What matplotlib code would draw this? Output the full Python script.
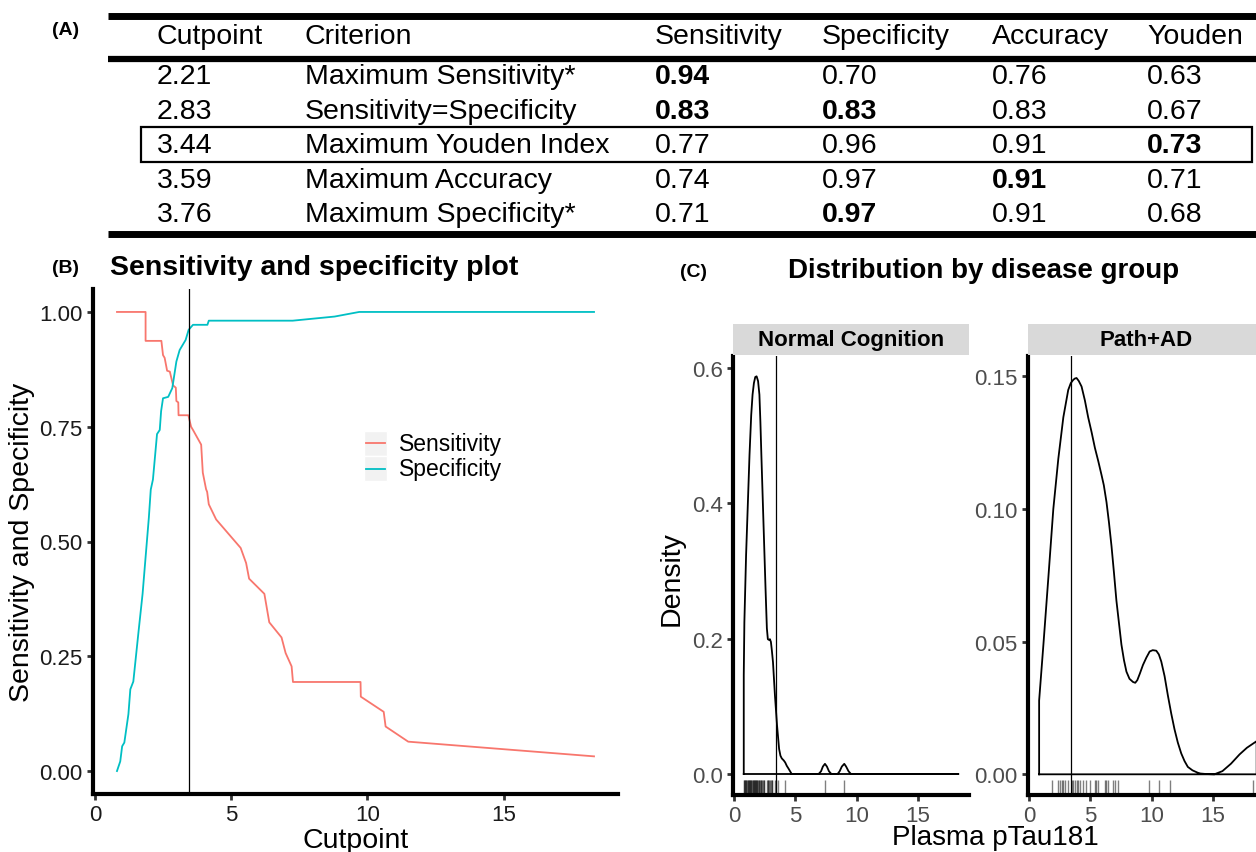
import numpy as np
import matplotlib
matplotlib.use("Agg")
import matplotlib.pyplot as plt
from matplotlib.patches import Rectangle
from matplotlib.lines import Line2D

plt.rcParams['font.family'] = ['Liberation Sans', 'DejaVu Sans']

## table (A)
col_names = ["Cutpoint", "Criterion", "Sensitivity", "Specificity", "Accuracy", "Youden"]
cutpoints = ["2.21", "2.83", "3.44", "3.59", "3.76"]
criteria = ["Maximum Sensitivity*", "Sensitivity=Specificity", "Maximum Youden Index",
            "Maximum Accuracy", "Maximum Specificity*"]
sensitivity = ["0.94", "0.83", "0.77", "0.74", "0.71"]
specificity = ["0.70", "0.83", "0.96", "0.97", "0.97"]
accuracy = ["0.76", "0.83", "0.91", "0.91", "0.91"]
youden = ["0.63", "0.67", "0.73", "0.71", "0.68"]
# (row, column) of the bold cells
bold_cells = [(0, 2), (1, 2), (1, 3), (4, 3), (3, 4), (2, 5)]
best_row = 2
youden_cut = 3.44

## sensitivity / specificity curves (B)
sens_cut = [0.81, 1.86, 1.86, 2.44, 2.50, 2.56, 2.65, 2.75, 2.87, 2.97,
            2.99, 3.06, 3.07, 3.43, 3.53, 3.60, 3.90, 3.96, 4.08, 4.12,
            4.18, 4.45, 5.35, 5.55, 5.66, 6.22, 6.40, 6.85, 7.00, 7.22,
            7.27, 9.75, 9.76, 10.60, 10.67, 11.50, 18.32]
sens_val = [1.00, 1.00, 0.937, 0.937, 0.906, 0.900, 0.872, 0.870, 0.840, 0.835,
            0.806, 0.803, 0.775, 0.775, 0.750, 0.743, 0.711, 0.650, 0.614, 0.608,
            0.581, 0.548, 0.486, 0.453, 0.419, 0.386, 0.324, 0.291, 0.257, 0.228,
            0.194, 0.194, 0.162, 0.129, 0.097, 0.064, 0.032]
spec_cut = [0.81, 0.93, 1.00, 1.08, 1.23, 1.30, 1.41, 1.60, 1.75, 1.83,
            1.98, 2.05, 2.13, 2.28, 2.38, 2.43, 2.50, 2.69, 2.84, 2.99,
            3.11, 3.33, 3.44, 3.60, 4.13, 4.18, 7.26, 8.80, 9.70, 18.32]
spec_val = [0.000, 0.021, 0.054, 0.062, 0.124, 0.178, 0.195, 0.303, 0.386, 0.444,
            0.552, 0.613, 0.635, 0.734, 0.743, 0.784, 0.812, 0.815, 0.834, 0.892,
            0.917, 0.939, 0.961, 0.972, 0.972, 0.981, 0.981, 0.990, 1.000, 1.000]

## densities (C)
groups = ["Normal Cognition", "Path+AD"]
nc_x = [0.78, 0.78, 0.83, 0.97, 1.11, 1.25, 1.39, 1.50, 1.61, 1.72,
        1.83, 1.95, 2.06, 2.14, 2.22, 2.39, 2.56, 2.67, 2.75, 2.83,
        2.92, 3.00, 3.08, 3.17, 3.33, 3.50, 3.67, 3.78, 3.89, 4.05,
        4.17, 4.30, 4.44, 4.70, 6.90, 7.10, 7.25, 7.42, 7.58, 7.75,
        7.95, 8.45, 8.62, 8.80, 9.00, 9.15, 9.35, 9.55, 18.33]
nc_d = [0.0, 0.146, 0.224, 0.323, 0.397, 0.471, 0.530, 0.560, 0.577, 0.586,
        0.587, 0.580, 0.560, 0.520, 0.471, 0.372, 0.274, 0.215, 0.199, 0.198,
        0.199, 0.195, 0.182, 0.165, 0.116, 0.072, 0.037, 0.027, 0.023, 0.020,
        0.017, 0.012, 0.008, 0.0, 0.0, 0.004, 0.011, 0.015, 0.011, 0.004,
        0.0, 0.0, 0.004, 0.011, 0.015, 0.011, 0.004, 0.0, 0.0]
pa_x = [0.81, 0.81, 1.16, 1.57, 1.97, 2.38, 2.79, 3.19, 3.40, 3.60,
        3.73, 3.87, 4.05, 4.28, 4.55, 4.82, 5.10, 5.37, 5.65, 5.91,
        6.10, 6.32, 6.52, 6.73, 6.93, 7.13, 7.34, 7.54, 7.75, 7.95,
        8.20, 8.49, 8.67, 8.84, 9.05, 9.30, 9.58, 9.85, 10.10, 10.39,
        10.60, 10.80, 11.07, 11.34, 11.61, 11.88, 12.15, 12.43, 12.70, 12.97,
        13.35, 13.78, 14.00, 14.50, 15.14, 15.80, 16.50, 17.20, 17.80, 18.60]
pa_d = [0.0, 0.0278, 0.0489, 0.0745, 0.100, 0.119, 0.1346, 0.1449, 0.1475, 0.1487,
        0.1492, 0.1494, 0.1483, 0.1462, 0.141, 0.1346, 0.129, 0.1231, 0.118, 0.1129,
        0.109, 0.1026, 0.095, 0.086, 0.076, 0.0655, 0.057, 0.0489, 0.043, 0.0387,
        0.036, 0.0348, 0.0345, 0.0355, 0.038, 0.0412, 0.044, 0.0463, 0.0468, 0.0466,
        0.0452, 0.0425, 0.037, 0.0297, 0.023, 0.017, 0.012, 0.0079, 0.005, 0.0028,
        0.0015, 0.0006, 0.0003, 0.0001, 0.0, 0.0012, 0.0040, 0.0075, 0.0100, 0.0125]
nc_rug = [0.80, 0.84, 0.88, 0.92, 0.96, 1.00, 1.05, 1.10, 1.14, 1.18,
          1.22, 1.27, 1.32, 1.36, 1.40, 1.45, 1.50, 1.55, 1.60, 1.64,
          1.68, 1.72, 1.77, 1.82, 1.86, 1.90, 1.95, 2.00, 2.05, 2.10,
          2.15, 2.20, 2.26, 2.32, 2.40, 2.46, 2.68, 2.74, 2.80, 2.86,
          2.92, 2.98, 3.05, 3.12, 3.30, 3.40, 3.55, 4.17, 7.42, 9.00]
pa_rug = [1.84, 2.38, 2.52, 2.65, 2.79, 2.93, 3.20, 3.47, 3.60, 3.74,
          3.87, 4.01, 4.15, 4.41, 4.68, 4.96, 5.37, 5.50, 5.63, 6.18,
          6.31, 6.45, 6.85, 6.99, 7.26, 9.76, 10.65, 11.51, 18.33]

RED = "#F8766D"
CYAN = "#00BFC4"
W, H = 1256, 853

fig = plt.figure(figsize=(W / 100, H / 100), dpi=100)


def px_box(l, t, r, b):
    return [l / W, 1 - b / H, (r - l) / W, (b - t) / H]


def classic(ax, tick_color):
    for s in ["top", "right"]:
        ax.spines[s].set_visible(False)
    for s in ["left", "bottom"]:
        ax.spines[s].set_linewidth(3)
    ax.tick_params(length=4, width=2, labelsize=16, labelcolor=tick_color, color="#333333")


# overlay in pixel coords for table, panel labels, legend
ov = fig.add_axes([0, 0, 1, 1], zorder=5)
ov.set_xlim(0, W)
ov.set_ylim(H, 0)
ov.axis("off")

## (A) table
col_x = [157, 305, 655, 822, 992, 1147]
head_y = 37
row_y = [77, 112, 146, 181, 215]
for x, name in zip(col_x, col_names):
    ov.text(x, head_y, name, fontsize=20.5, va="center", ha="left")
columns = [cutpoints, criteria, sensitivity, specificity, accuracy, youden]
for j, col in enumerate(columns):
    for i, val in enumerate(col):
        w = "bold" if (i, j) in bold_cells else "normal"
        ov.text(col_x[j], row_y[i], val, fontsize=20.5, va="center", ha="left", fontweight=w)
ov.plot([108, W], [16.5, 16.5], color="black", lw=5, solid_capstyle="butt")
ov.plot([108, W], [59.5, 59.5], color="black", lw=4.5, solid_capstyle="butt")
ov.plot([108, W], [235, 235], color="black", lw=5, solid_capstyle="butt")
ov.add_patch(Rectangle((141, 128), 1252 - 141, 35, fill=False, lw=1.6, edgecolor="black"))
ov.text(52, 30, "(A)", fontsize=14, fontweight="bold", va="center")

## (B) sensitivity and specificity plot
axB = fig.add_axes(px_box(93, 290, 618, 795))
axB.plot(sens_cut, sens_val, color=RED, lw=1.3)
axB.plot(spec_cut, spec_val, color=CYAN, lw=1.3)
axB.axvline(youden_cut, color="black", lw=0.9)
axB.set_xlim(-0.07, 19.2)
axB.set_ylim(-0.05, 1.05)
axB.set_xticks([0, 5, 10, 15])
axB.set_yticks([0, 0.25, 0.5, 0.75, 1.0])
axB.set_yticklabels(["0.00", "0.25", "0.50", "0.75", "1.00"])
classic(axB, "#1A1A1A")
axB.set_xlabel("Cutpoint", fontsize=20.5, labelpad=1)
axB.set_ylabel("Sensitivity and Specificity", fontsize=20.5, labelpad=3)
ov.text(52, 268, "(B)", fontsize=14, fontweight="bold", va="center")
ov.text(110, 268, "Sensitivity and specificity plot", fontsize=20.5, fontweight="bold", va="center")

# legend with grey key boxes like ggplot
for k, (lab, c) in enumerate([("Sensitivity", RED), ("Specificity", CYAN)]):
    yc = 444 + k * 25.5
    ov.add_patch(Rectangle((364, yc - 12.5), 23, 25, facecolor="#F2F2F2", edgecolor="white", lw=1))
    ov.add_line(Line2D([366, 385], [yc, yc], color=c, lw=1.3))
    ov.text(399, yc, lab, fontsize=16.5, va="center")

## (C) distribution by disease group
ov.text(680, 272, "(C)", fontsize=14, fontweight="bold", va="center")
ov.text(984, 271, "Distribution by disease group", fontsize=20, fontweight="bold",
        va="center", ha="center")

facets = [
    (733, 969, nc_x, nc_d, nc_rug, (-0.031, 0.617), [0, 0.2, 0.4, 0.6], ["0.0", "0.2", "0.4", "0.6"]),
    (1028, 1264, pa_x, pa_d, pa_rug, (-0.0078, 0.1577), [0, 0.05, 0.10, 0.15], ["0.00", "0.05", "0.10", "0.15"]),
]
for g, (l, r, xs, ds, rug, ylim, yt, ytl) in zip(groups, facets):
    ax = fig.add_axes(px_box(l, 357, r, 796))
    # density outline closed along the baseline, like geom_density
    ax.plot(np.r_[xs, xs[-1], xs[0]], np.r_[ds, 0, ds[0]], color="black", lw=1.3)
    ax.vlines(rug, 0, 0.035, transform=ax.get_xaxis_transform(), color="black", alpha=0.5, lw=1)
    ax.axvline(youden_cut, color="black", lw=0.9)
    ax.set_xlim(-0.1, 19.2)
    ax.set_ylim(*ylim)
    ax.set_xticks([0, 5, 10, 15])
    ax.set_yticks(yt)
    ax.set_yticklabels(ytl)
    classic(ax, "#4D4D4D")
    strip = fig.add_axes(px_box(l, 325, r, 356))
    strip.set_facecolor("#D9D9D9")
    strip.set_xticks([])
    strip.set_yticks([])
    for s in strip.spines.values():
        s.set_visible(False)
    strip.text(0.5, 0.5, g, transform=strip.transAxes, ha="center", va="center",
               fontsize=16, fontweight="bold")

ov.text(672, 579, "Density", fontsize=20.5, rotation=90, va="center", ha="center")
ov.text(995, 838, "Plasma pTau181", fontsize=20, va="center", ha="center")

fig.savefig("out.png", dpi=100)
